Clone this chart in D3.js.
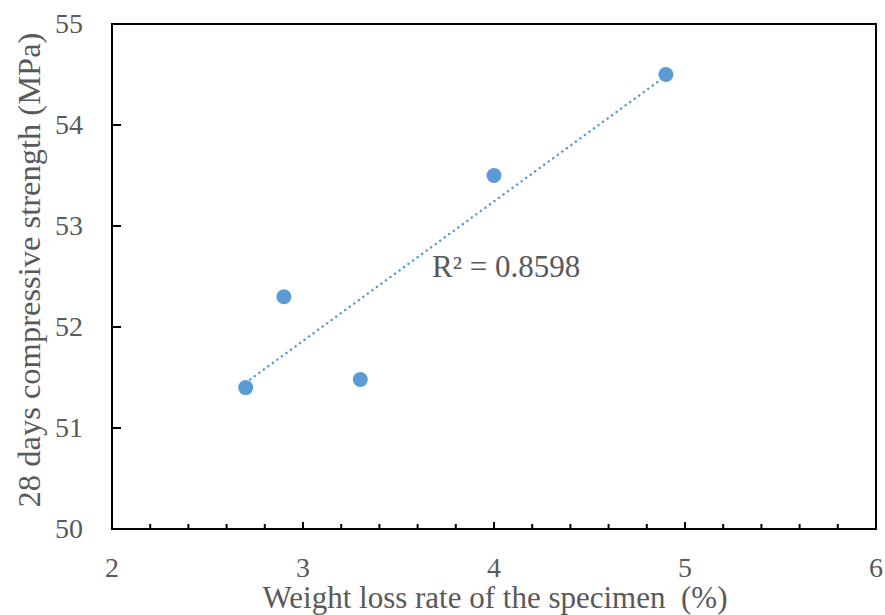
<!DOCTYPE html>
<html>
<head>
<meta charset="utf-8">
<script src="https://cdn.jsdelivr.net/npm/d3@7"></script>
<style>
  body { margin: 0; background: #fff; }
</style>
</head>
<body>
<div id="chart"></div>
<script>
// weight loss rate (%) vs 28 day strength (MPa)
var weightLoss = [2.7, 2.9, 3.3, 4.0, 4.9];
var strength = [51.4, 52.3, 51.48, 53.5, 54.5];
var xTicks = [2, 3, 4, 5, 6];
var yTicks = [50, 51, 52, 53, 54, 55];

var width = 885, height = 615;
var margin = {top: 24, right: 9, bottom: 86, left: 112};
var serif = "Liberation Serif, DejaVu Serif, serif";

var svg = d3.select("#chart").append("svg")
    .attr("width", width)
    .attr("height", height)
    .attr("font-family", serif);

var x = d3.scaleLinear().domain([2, 6])
    .range([margin.left, width - margin.right]);
var y = d3.scaleLinear().domain([50, 55])
    .range([height - margin.bottom, margin.top]);

// minor ticks on x every 0.2
var minor = d3.range(10, 31).map(function(d) { return d / 5; });
svg.append("g").selectAll("line")
    .data(minor)
  .enter().append("line")
    .attr("x1", function(d) { return x(d); })
    .attr("x2", function(d) { return x(d); })
    .attr("y1", y(50))
    .attr("y2", function(d) { return y(50) - (Number.isInteger(d) ? 7 : 5); })
    .attr("stroke", "#000")
    .attr("stroke-width", 2);

svg.append("g").selectAll("line")
    .data(yTicks)
  .enter().append("line")
    .attr("x1", x(2))
    .attr("x2", x(2) + 9)
    .attr("y1", function(d) { return y(d); })
    .attr("y2", function(d) { return y(d); })
    .attr("stroke", "#000")
    .attr("stroke-width", 2);

// frame
svg.append("rect")
    .attr("x", x(2))
    .attr("y", y(55))
    .attr("width", x(6) - x(2))
    .attr("height", y(50) - y(55))
    .attr("fill", "none")
    .attr("stroke", "#000")
    .attr("stroke-width", 2);

svg.append("g").selectAll("text")
    .data(xTicks)
  .enter().append("text")
    .attr("x", function(d) { return x(d); })
    .attr("y", 577)
    .attr("text-anchor", "middle")
    .attr("font-family", serif)
    .attr("font-size", 28)
    .attr("fill", "#595959")
    .text(function(d) { return d; });

svg.append("g").selectAll("text")
    .data(yTicks)
  .enter().append("text")
    .attr("x", 83)
    .attr("y", function(d) { return y(d) + 9; })
    .attr("text-anchor", "end")
    .attr("font-family", serif)
    .attr("font-size", 28)
    .attr("fill", "#595959")
    .text(function(d) { return d; });

// linear trendline
var mx = d3.mean(weightLoss), my = d3.mean(strength);
var sxy = d3.sum(weightLoss, function(d, i) { return (d - mx) * (strength[i] - my); });
var sxx = d3.sum(weightLoss, function(d) { return (d - mx) * (d - mx); });
var slope = sxy / sxx, icpt = my - slope * mx;
var xExt = d3.extent(weightLoss);

svg.append("line")
    .attr("x1", x(xExt[0]))
    .attr("y1", y(slope * xExt[0] + icpt))
    .attr("x2", x(xExt[1]))
    .attr("y2", y(slope * xExt[1] + icpt))
    .attr("stroke", "#5b9bd5")
    .attr("stroke-width", 2.5)
    .attr("stroke-linecap", "round")
    .attr("stroke-dasharray", "0.1 5.5");

svg.append("g").selectAll("circle")
    .data(weightLoss)
  .enter().append("circle")
    .attr("cx", function(d) { return x(d); })
    .attr("cy", function(d, i) { return y(strength[i]); })
    .attr("r", 7.5)
    .attr("fill", "#5b9bd5");

svg.append("text")
    .attr("x", 432)
    .attr("y", 277)
    .attr("font-family", serif)
    .attr("font-size", 31)
    .attr("fill", "#595959")
    .text("R\u00b2 = 0.8598");

svg.append("text")
    .attr("x", 495)
    .attr("y", 608)
    .attr("text-anchor", "middle")
    .attr("font-family", serif)
    .attr("font-size", 31)
    .attr("fill", "#595959")
    .attr("xml:space", "preserve")
    .text("Weight loss rate of the specimen  (%)");

svg.append("text")
    .attr("transform", "translate(40," + 270 + ") rotate(-90)")
    .attr("text-anchor", "middle")
    .attr("font-family", serif)
    .attr("font-size", 32.5)
    .attr("fill", "#595959")
    .text("28 days compressive strength (MPa)");
</script>
</body>
</html>
